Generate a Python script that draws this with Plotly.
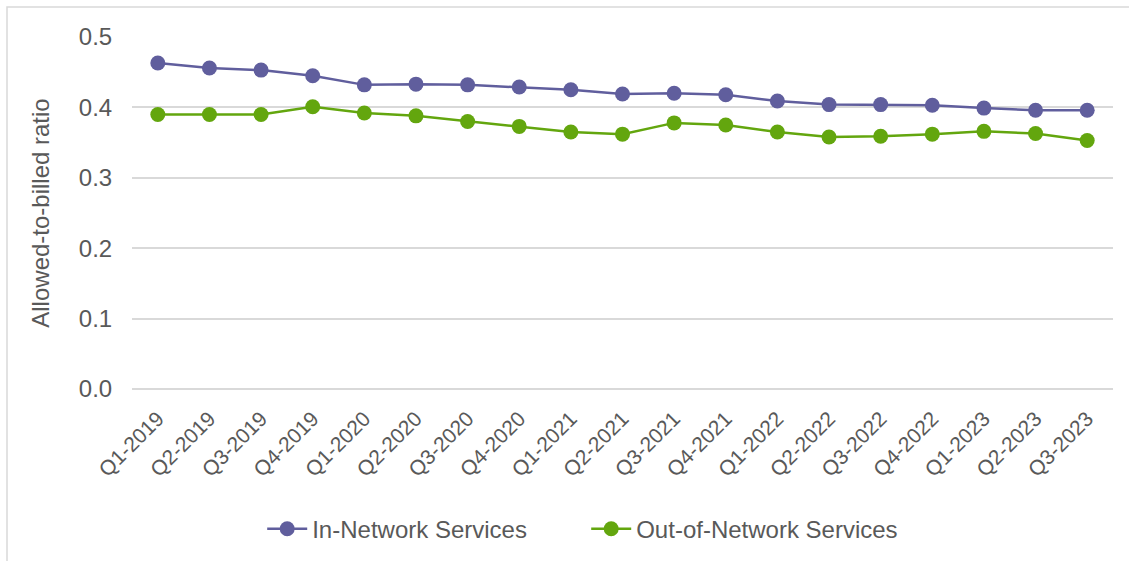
import plotly.graph_objects as go

quarters = [
    "Q1-2019", "Q2-2019", "Q3-2019", "Q4-2019",
    "Q1-2020", "Q2-2020", "Q3-2020", "Q4-2020",
    "Q1-2021", "Q2-2021", "Q3-2021", "Q4-2021",
    "Q1-2022", "Q2-2022", "Q3-2022", "Q4-2022",
    "Q1-2023", "Q2-2023", "Q3-2023",
]
in_network = [
    0.463, 0.456, 0.453, 0.445, 0.432, 0.433, 0.432, 0.429, 0.425, 0.419,
    0.420, 0.418, 0.409, 0.404, 0.404, 0.403, 0.399, 0.396, 0.396,
]
out_of_network = [
    0.390, 0.390, 0.390, 0.401, 0.392, 0.388, 0.380, 0.373, 0.365, 0.362,
    0.378, 0.375, 0.365, 0.358, 0.359, 0.362, 0.366, 0.363, 0.353,
]
y_ticks = [0.0, 0.1, 0.2, 0.3, 0.4, 0.5]

PURPLE = "#605E9D"
GREEN = "#63A60E"
TEXT = "#595959"
GRID = "#D9D9D9"
FONT = "Liberation Sans, Arial, sans-serif"

fig = go.Figure()
fig.add_trace(go.Scatter(
    x=quarters, y=in_network, name="In-Network Services",
    mode="lines+markers",
    line=dict(color=PURPLE, width=2.5),
    marker=dict(color=PURPLE, size=15),
))
fig.add_trace(go.Scatter(
    x=quarters, y=out_of_network, name="Out-of-Network Services",
    mode="lines+markers",
    line=dict(color=GREEN, width=2.5),
    marker=dict(color=GREEN, size=15),
))

fig.update_layout(
    template="none",
    width=1129, height=561,
    margin=dict(l=132, r=16, t=37, b=172, autoexpand=False),
    paper_bgcolor="white", plot_bgcolor="white",
    font=dict(family=FONT, color=TEXT, size=22),
    showlegend=True,
    legend=dict(
        orientation="h", x=0.463, xanchor="center",
        y=-0.398, yanchor="middle",
        font=dict(size=24, color=TEXT),
        itemwidth=40, tracegroupgap=0,
        entrywidth=269, entrywidthmode="pixels",
        bgcolor="rgba(0,0,0,0)",
    ),
    xaxis=dict(
        type="category", tickangle=-45,
        range=[-0.5, len(quarters) - 0.5],
        tickfont=dict(size=21, color=TEXT),
        showgrid=False, showline=False, zeroline=False,
        ticks="outside", ticklen=8, tickcolor="rgba(0,0,0,0)",
        automargin=False,
    ),
    yaxis=dict(
        range=[0, 0.5], tickvals=y_ticks,
        tickformat=".1f",
        tickfont=dict(size=24, color=TEXT),
        showgrid=True, gridcolor=GRID, gridwidth=1.5,
        zeroline=True, zerolinecolor=GRID, zerolinewidth=2,
        showline=False, ticks="outside", ticklen=14, tickcolor="rgba(0,0,0,0)",
        automargin=False,
        title=dict(text="Allowed-to-billed ratio", font=dict(size=24, color=TEXT), standoff=22),
    ),
    shapes=[dict(
        type="rect", xref="paper", yref="paper",
        x0=(7 - 132) / 981, x1=1.03, y0=-0.6, y1=(389 - 7) / 352,
        line=dict(color=GRID, width=1.5), fillcolor="rgba(0,0,0,0)", layer="below",
    )],
)

fig.write_html("out.html")
